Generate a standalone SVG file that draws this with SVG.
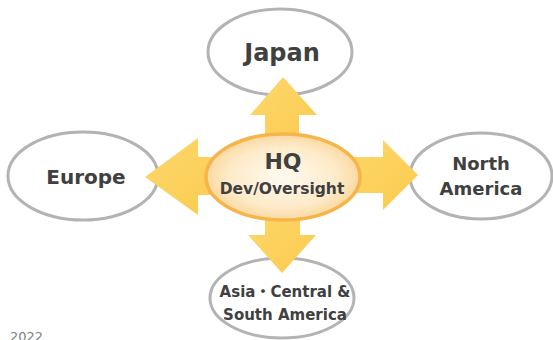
<svg xmlns="http://www.w3.org/2000/svg" width="553" height="340" viewBox="0 0 553 340">
<defs>
<radialGradient id="hqFill" cx="50%" cy="50%" r="50%">
<stop offset="0" stop-color="#fffaf0"/>
<stop offset="0.7" stop-color="#fdebc9"/>
<stop offset="1" stop-color="#fbd9a0"/>
</radialGradient>
<linearGradient id="arrowFill" x1="0" y1="0" x2="1" y2="1">
<stop offset="0" stop-color="#fdd86e"/>
<stop offset="1" stop-color="#fbca4c"/>
</linearGradient>
</defs>
<style>
.region{fill:#ffffff;stroke:#b3b3b3;stroke-width:3}
.hq{fill:url(#hqFill);stroke:#f6b44a;stroke-width:3.5}
.arrow{fill:url(#arrowFill);stroke:none}
.t{font-family:"DejaVu Sans","Noto Sans CJK JP",sans-serif;font-weight:bold;fill:#404040;text-anchor:middle}
.yr{font-family:"DejaVu Sans",sans-serif;fill:#808080;font-size:13px}
</style>
<rect width="553" height="340" fill="#ffffff"/>
<g id="japan">
<ellipse class="region" cx="280" cy="52" rx="72" ry="43"/>
<text class="t" x="282" y="61" font-size="24">Japan</text>
</g>
<g id="europe">
<ellipse class="region" cx="83" cy="176" rx="75" ry="44"/>
<text class="t" x="86" y="184" font-size="20">Europe</text>
</g>
<g id="north-america">
<ellipse class="region" cx="481" cy="176" rx="71" ry="43"/>
<text class="t" x="481" y="170" font-size="18">North</text>
<text class="t" x="481" y="195" font-size="18">America</text>
</g>
<g id="asia">
<ellipse class="region" cx="282" cy="298" rx="72" ry="40"/>
<text class="t" x="285" y="297" font-size="15">Asia・Central &amp;</text>
<text class="t" x="285" y="320" font-size="15">South America</text>
</g>
<g id="connectors">
<polygon class="arrow" points="283,77 317,115 299,115 299,145 265,145 265,115 250,115"/>
<polygon class="arrow" points="282,273 316,235 300,235 300,205 265,205 265,235 248,235"/>
<polygon class="arrow" points="145,177 198,138 198,157 230,157 230,195 198,195 198,215"/>
<polygon class="arrow" points="418,175 383,140 383,157 340,157 340,193 383,193 383,210"/>
</g>
<g id="hq">
<ellipse class="hq" cx="283" cy="177" rx="77" ry="43"/>
<text class="t" x="283" y="169" font-size="22">HQ</text>
<text class="t" x="282" y="194" font-size="15.5">Dev/Oversight</text>
</g>
<text class="yr" x="10" y="341">2022</text>
</svg>
